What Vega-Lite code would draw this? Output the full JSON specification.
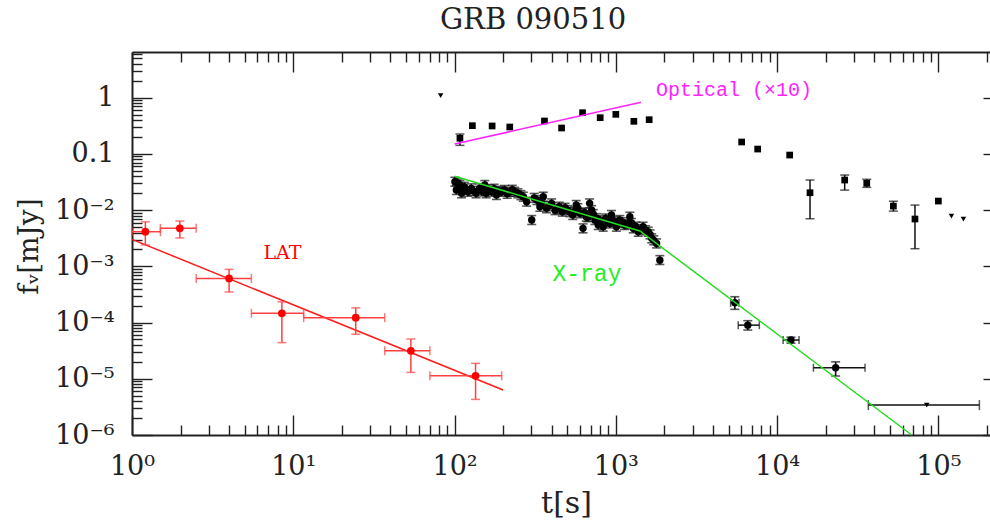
{
  "$schema": "https://vega.github.io/schema/vega-lite/v6.json",
  "autosize": {"type": "none"},
  "padding": {"left": 132, "top": 52, "right": 0, "bottom": 87},
  "width": 858,
  "height": 383,
  "background": "white",
  "config": {"view": {"stroke": null}, "font": "DejaVu Serif", "axis": {"grid": false, "tickColor": "#222", "tickWidth": 1.4, "domainColor": "#222", "domainWidth": 2, "labelOverlap": false, "labelFlush": false, "labelBound": false}},
  "title": {"text": "GRB 090510", "font": "DejaVu Serif", "fontSize": 29, "fontWeight": "normal", "color": "#222", "frame": "group", "anchor": "middle", "dx": -28, "baseline": "alphabetic", "offset": -7},
  "datasets": {
    "lat": [
      {"t": 1.21, "f": 0.00413, "tlo": 1.0, "thi": 1.5, "flo": 0.0024, "fhi": 0.0062},
      {"t": 1.98, "f": 0.00474, "tlo": 1.5, "thi": 2.5, "flo": 0.0032, "fhi": 0.0064},
      {"t": 4.0, "f": 0.00061, "tlo": 2.5, "thi": 5.5, "flo": 0.00035, "fhi": 0.000885},
      {"t": 8.5, "f": 0.000146, "tlo": 5.5, "thi": 11.6, "flo": 0.000044, "fhi": 0.000234},
      {"t": 24.4, "f": 0.000122, "tlo": 11.6, "thi": 36.9, "flo": 0.000062, "fhi": 0.000183},
      {"t": 53.6, "f": 0.0000315, "tlo": 36.9, "thi": 70.3, "flo": 0.000013, "fhi": 0.000051},
      {"t": 135, "f": 0.0000113, "tlo": 70.3, "thi": 196, "flo": 0.0000043, "fhi": 0.0000188}
    ],
    "latfit": [{"t": 1, "f": 0.00302}, {"t": 200, "f": 0.0000063}],
    "optfit": [{"t": 100, "f": 0.15}, {"t": 1432, "f": 0.828}],
    "xfit": [{"t": 100, "f": 0.0401}, {"t": 1410, "f": 0.00425}, {"t": 68400, "f": 0.000001}],
    "xray": [
      {"t": 100.5, "f": 0.032, "flo": 0.0267, "fhi": 0.0384},
      {"t": 102.6, "f": 0.0228, "flo": 0.019, "fhi": 0.0274},
      {"t": 105, "f": 0.03, "flo": 0.025, "fhi": 0.036},
      {"t": 108, "f": 0.028, "flo": 0.0233, "fhi": 0.0336},
      {"t": 110.5, "f": 0.0199, "flo": 0.0166, "fhi": 0.0239},
      {"t": 112, "f": 0.0235, "flo": 0.0196, "fhi": 0.0282},
      {"t": 115, "f": 0.026, "flo": 0.0217, "fhi": 0.0312},
      {"t": 121, "f": 0.0212, "flo": 0.0177, "fhi": 0.0254},
      {"t": 127, "f": 0.0244, "flo": 0.0203, "fhi": 0.0293},
      {"t": 131, "f": 0.022, "flo": 0.0183, "fhi": 0.0264},
      {"t": 136, "f": 0.0199, "flo": 0.0166, "fhi": 0.0239},
      {"t": 143, "f": 0.0244, "flo": 0.0203, "fhi": 0.0293},
      {"t": 148, "f": 0.0215, "flo": 0.0179, "fhi": 0.0258},
      {"t": 154, "f": 0.028, "flo": 0.0233, "fhi": 0.0336},
      {"t": 157, "f": 0.0199, "flo": 0.0166, "fhi": 0.0239},
      {"t": 163, "f": 0.0235, "flo": 0.0196, "fhi": 0.0282},
      {"t": 170, "f": 0.0212, "flo": 0.0177, "fhi": 0.0254},
      {"t": 176, "f": 0.024, "flo": 0.02, "fhi": 0.0288},
      {"t": 182, "f": 0.0186, "flo": 0.0155, "fhi": 0.0223},
      {"t": 188, "f": 0.022, "flo": 0.0183, "fhi": 0.0264},
      {"t": 195, "f": 0.0212, "flo": 0.0177, "fhi": 0.0254},
      {"t": 204, "f": 0.0228, "flo": 0.019, "fhi": 0.0274},
      {"t": 212, "f": 0.0195, "flo": 0.0163, "fhi": 0.0234},
      {"t": 220, "f": 0.0212, "flo": 0.0177, "fhi": 0.0254},
      {"t": 228, "f": 0.023, "flo": 0.0192, "fhi": 0.0276},
      {"t": 236, "f": 0.0212, "flo": 0.0177, "fhi": 0.0254},
      {"t": 247, "f": 0.0199, "flo": 0.0166, "fhi": 0.0239},
      {"t": 258, "f": 0.0185, "flo": 0.0154, "fhi": 0.0222},
      {"t": 267, "f": 0.0173, "flo": 0.0144, "fhi": 0.0208},
      {"t": 280, "f": 0.0141, "flo": 0.0118, "fhi": 0.0169},
      {"t": 301, "f": 0.00667, "flo": 0.00556, "fhi": 0.008},
      {"t": 312, "f": 0.0165, "flo": 0.0138, "fhi": 0.0198},
      {"t": 324, "f": 0.0151, "flo": 0.0126, "fhi": 0.0181},
      {"t": 338, "f": 0.0115, "flo": 0.00958, "fhi": 0.0138},
      {"t": 346, "f": 0.0135, "flo": 0.0113, "fhi": 0.0162},
      {"t": 355, "f": 0.0173, "flo": 0.0144, "fhi": 0.0208},
      {"t": 372, "f": 0.0108, "flo": 0.009, "fhi": 0.013},
      {"t": 385, "f": 0.0118, "flo": 0.00983, "fhi": 0.0142},
      {"t": 400, "f": 0.0132, "flo": 0.011, "fhi": 0.0158},
      {"t": 420, "f": 0.01, "flo": 0.00833, "fhi": 0.012},
      {"t": 432, "f": 0.0105, "flo": 0.00875, "fhi": 0.0126},
      {"t": 446, "f": 0.0115, "flo": 0.00958, "fhi": 0.0138},
      {"t": 466, "f": 0.0094, "flo": 0.00783, "fhi": 0.0113},
      {"t": 485, "f": 0.011, "flo": 0.00917, "fhi": 0.0132},
      {"t": 502, "f": 0.01, "flo": 0.00833, "fhi": 0.012},
      {"t": 520, "f": 0.0092, "flo": 0.00767, "fhi": 0.011},
      {"t": 541, "f": 0.0082, "flo": 0.00683, "fhi": 0.00984},
      {"t": 555, "f": 0.0095, "flo": 0.00792, "fhi": 0.0114},
      {"t": 568, "f": 0.0123, "flo": 0.0103, "fhi": 0.0148},
      {"t": 582, "f": 0.0108, "flo": 0.009, "fhi": 0.013},
      {"t": 600, "f": 0.0088, "flo": 0.00733, "fhi": 0.0106},
      {"t": 626, "f": 0.00474, "flo": 0.00395, "fhi": 0.00569},
      {"t": 640, "f": 0.0091, "flo": 0.00758, "fhi": 0.0109},
      {"t": 656, "f": 0.00764, "flo": 0.00637, "fhi": 0.00917},
      {"t": 672, "f": 0.0075, "flo": 0.00625, "fhi": 0.009},
      {"t": 688, "f": 0.0132, "flo": 0.011, "fhi": 0.0158},
      {"t": 708, "f": 0.01, "flo": 0.00833, "fhi": 0.012},
      {"t": 725, "f": 0.0085, "flo": 0.00708, "fhi": 0.0102},
      {"t": 742, "f": 0.00667, "flo": 0.00556, "fhi": 0.008},
      {"t": 760, "f": 0.0072, "flo": 0.006, "fhi": 0.00864},
      {"t": 778, "f": 0.00543, "flo": 0.00453, "fhi": 0.00652},
      {"t": 800, "f": 0.0066, "flo": 0.0055, "fhi": 0.00792},
      {"t": 835, "f": 0.00507, "flo": 0.00423, "fhi": 0.00608},
      {"t": 865, "f": 0.0071, "flo": 0.00592, "fhi": 0.00852},
      {"t": 896, "f": 0.00622, "flo": 0.00518, "fhi": 0.00746},
      {"t": 920, "f": 0.0058, "flo": 0.00483, "fhi": 0.00696},
      {"t": 940, "f": 0.0082, "flo": 0.00683, "fhi": 0.00984},
      {"t": 975, "f": 0.0064, "flo": 0.00533, "fhi": 0.00768},
      {"t": 1008, "f": 0.00507, "flo": 0.00423, "fhi": 0.00608},
      {"t": 1035, "f": 0.0059, "flo": 0.00492, "fhi": 0.00708},
      {"t": 1058, "f": 0.00667, "flo": 0.00556, "fhi": 0.008},
      {"t": 1100, "f": 0.0061, "flo": 0.00508, "fhi": 0.00732},
      {"t": 1134, "f": 0.00543, "flo": 0.00453, "fhi": 0.00652},
      {"t": 1180, "f": 0.0056, "flo": 0.00467, "fhi": 0.00672},
      {"t": 1222, "f": 0.00764, "flo": 0.00637, "fhi": 0.00917},
      {"t": 1250, "f": 0.0059, "flo": 0.00492, "fhi": 0.00708},
      {"t": 1283, "f": 0.00474, "flo": 0.00395, "fhi": 0.00569},
      {"t": 1330, "f": 0.0051, "flo": 0.00425, "fhi": 0.00612},
      {"t": 1377, "f": 0.00413, "flo": 0.00344, "fhi": 0.00496},
      {"t": 1430, "f": 0.0046, "flo": 0.00383, "fhi": 0.00552},
      {"t": 1476, "f": 0.00507, "flo": 0.00423, "fhi": 0.00608},
      {"t": 1530, "f": 0.0044, "flo": 0.00367, "fhi": 0.00528},
      {"t": 1588, "f": 0.00413, "flo": 0.00344, "fhi": 0.00496},
      {"t": 1630, "f": 0.0037, "flo": 0.00308, "fhi": 0.00444},
      {"t": 1670, "f": 0.00315, "flo": 0.00263, "fhi": 0.00378},
      {"t": 1720, "f": 0.0029, "flo": 0.00242, "fhi": 0.00348},
      {"t": 1790, "f": 0.00256, "flo": 0.00213, "fhi": 0.00307},
      {"t": 1875, "f": 0.00129, "flo": 0.00108, "fhi": 0.00155},
      {"t": 5470, "f": 0.000225, "flo": 0.000172, "fhi": 0.000288, "tlo": 5150, "thi": 5800},
      {"t": 6580, "f": 0.00009, "flo": 0.0000736, "fhi": 0.000108, "tlo": 5740, "thi": 7760},
      {"t": 12190, "f": 0.0000489, "flo": 0.000043, "fhi": 0.000055, "tlo": 10900, "thi": 13680},
      {"t": 23070, "f": 0.0000157, "flo": 0.0000112, "fhi": 0.00002, "tlo": 16800, "thi": 35100}
    ],
    "ul": [
      {"t": 82, "f": 1.09},
      {"t": 120500, "f": 0.00785},
      {"t": 143000, "f": 0.00695},
      {"t": 84700, "f": 0.0000034, "tlo": 36800, "thi": 179600}
    ],
    "opt": [
      {"t": 108, "f": 0.19, "flo": 0.142, "fhi": 0.226},
      {"t": 129, "f": 0.318},
      {"t": 171, "f": 0.314},
      {"t": 220, "f": 0.301},
      {"t": 361, "f": 0.385},
      {"t": 461, "f": 0.289},
      {"t": 622, "f": 0.541},
      {"t": 800, "f": 0.441},
      {"t": 1000, "f": 0.506},
      {"t": 1294, "f": 0.38},
      {"t": 1610, "f": 0.406},
      {"t": 6030, "f": 0.163},
      {"t": 7580, "f": 0.122},
      {"t": 11970, "f": 0.0955},
      {"t": 16000, "f": 0.0204, "flo": 0.00703, "fhi": 0.0343},
      {"t": 26250, "f": 0.0343, "flo": 0.0227, "fhi": 0.0421},
      {"t": 35970, "f": 0.03, "flo": 0.0254, "fhi": 0.0353},
      {"t": 52600, "f": 0.0118, "flo": 0.0096, "fhi": 0.0144},
      {"t": 71600, "f": 0.00695, "flo": 0.00206, "fhi": 0.0123},
      {"t": 100000, "f": 0.0145}
    ]
  },
  "encoding": {
    "x": {"field": "t", "type": "quantitative", "scale": {"type": "log", "domain": [1, 209000], "nice": false}, "axis": null},
    "y": {"field": "f", "type": "quantitative", "scale": {"type": "log", "domain": [0.000001, 6.5], "nice": false}, "axis": null}
  },
  "resolve": {"axis": {"x": "independent", "y": "independent"}},
  "layer": [
    {
      "data": {"name": "latfit"},
      "mark": {"type": "line", "color": "#ff1a1a", "strokeWidth": 1.5},
      "encoding": {
        "x": {"field": "t", "type": "quantitative", "scale": {"type": "log", "domain": [1, 209000], "nice": false},
          "axis": {"orient": "bottom", "values": [1, 10, 100, 1000, 10000, 100000],
            "domain": true, "ticks": true, "tickSize": -20,
            "labelExpr": "'10' + ['⁰','¹','²','³','⁴','⁵'][round(log(datum.value)/LN10)]",
            "labelFont": "DejaVu Serif", "labelFontSize": 27, "labelColor": "#222", "labelPadding": 38,
            "title": "t[s]", "titleFont": "DejaVu Serif", "titleFontSize": 30, "titleFontWeight": "normal", "titleColor": "#222", "titleX": 434, "titleY": 68, "titleBaseline": "middle", "titleAlign": "center"}},
        "y": {"field": "f", "type": "quantitative", "scale": {"type": "log", "domain": [0.000001, 6.5], "nice": false},
          "axis": {"orient": "left", "values": [0.000001, 0.00001, 0.0001, 0.001, 0.01, 0.1, 1],
            "domain": true, "ticks": true, "tickSize": -20,
            "labelExpr": "['1','0.1','10⁻²','10⁻³','10⁻⁴','10⁻⁵','10⁻⁶'][-round(log(datum.value)/LN10)]",
            "labelFont": "DejaVu Serif", "labelFontSize": 27, "labelColor": "#222", "labelPadding": 38,
            "title": "fᵥ[mJy]", "titleFont": "DejaVu Serif", "titleFontSize": 28, "titleFontWeight": "normal", "titleColor": "#222", "titleX": -103, "titleY": 194, "titleBaseline": "middle", "titleAlign": "center", "titleAngle": -90}}
      }
    },
    {
      "data": {"name": "lat"},
      "mark": {"type": "errorbar", "ticks": true, "size": 9, "thickness": 1.5, "color": "#ff4040"},
      "encoding": {
        "y": {"field": "flo", "type": "quantitative", "scale": {"type": "log", "domain": [0.000001, 6.5], "nice": false}, "axis": null},
        "y2": {"field": "fhi"}
      }
    },
    {
      "data": {"name": "lat"},
      "mark": {"type": "errorbar", "ticks": true, "size": 9, "thickness": 1.5, "color": "#ff4040"},
      "encoding": {
        "x": {"field": "tlo", "type": "quantitative", "scale": {"type": "log", "domain": [1, 209000], "nice": false}, "axis": null},
        "x2": {"field": "thi"}
      }
    },
    {
      "data": {"name": "lat"},
      "mark": {"type": "point", "shape": "circle", "filled": true, "size": 60, "color": "#ff0000", "opacity": 1},
      "encoding": {
        "x": {"field": "t", "type": "quantitative", "scale": {"type": "log", "domain": [1, 209000], "nice": false},
          "axis": {"orient": "top", "values": [2,3,4,5,6,7,8,9,20,30,40,50,60,70,80,90,200,300,400,500,600,700,800,900,2000,3000,4000,5000,6000,7000,8000,9000,20000,30000,40000,50000,60000,70000,80000,90000,200000],
            "domain": false, "ticks": true, "tickSize": -10, "labels": false, "title": null}},
        "y": {"field": "f", "type": "quantitative", "scale": {"type": "log", "domain": [0.000001, 6.5], "nice": false},
          "axis": {"orient": "right", "offset": 13, "values": [0.000002,0.000003,0.000004,0.000005,0.000006,0.000007,0.000008,0.000009,0.00002,0.00003,0.00004,0.00005,0.00006,0.00007,0.00008,0.00009,0.0002,0.0003,0.0004,0.0005,0.0006,0.0007,0.0008,0.0009,0.002,0.003,0.004,0.005,0.006,0.007,0.008,0.009,0.02,0.03,0.04,0.05,0.06,0.07,0.08,0.09,0.2,0.3,0.4,0.5,0.6,0.7,0.8,0.9,2,3,4,5,6],
            "domain": false, "ticks": true, "tickSize": -10, "labels": false, "title": null}}
      }
    },
    {
      "data": {"name": "xray"},
      "mark": {"type": "errorbar", "ticks": true, "size": 9, "thickness": 1.6, "color": "#111"},
      "encoding": {
        "y": {"field": "flo", "type": "quantitative", "scale": {"type": "log", "domain": [0.000001, 6.5], "nice": false}, "axis": null},
        "y2": {"field": "fhi"}
      }
    },
    {
      "data": {"name": "xray"},
      "transform": [{"filter": "isValid(datum.tlo)"}],
      "mark": {"type": "errorbar", "ticks": true, "size": 8, "thickness": 1.5, "color": "#111"},
      "encoding": {
        "x": {"field": "tlo", "type": "quantitative", "scale": {"type": "log", "domain": [1, 209000], "nice": false}, "axis": null},
        "x2": {"field": "thi"}
      }
    },
    {
      "data": {"name": "xray"},
      "mark": {"type": "point", "shape": "circle", "filled": true, "size": 55, "color": "#000", "opacity": 1}
    },
    {
      "data": {"name": "ul"},
      "transform": [{"filter": "isValid(datum.tlo)"}],
      "mark": {"type": "errorbar", "ticks": true, "size": 10, "thickness": 1.5, "color": "#111"},
      "encoding": {
        "x": {"field": "tlo", "type": "quantitative", "scale": {"type": "log", "domain": [1, 209000], "nice": false}, "axis": null},
        "x2": {"field": "thi"}
      }
    },
    {
      "data": {"name": "ul"},
      "mark": {"type": "point", "shape": "triangle-down", "filled": true, "size": 30, "color": "#000", "opacity": 1}
    },
    {
      "data": {"name": "opt"},
      "transform": [{"filter": "isValid(datum.flo)"}],
      "mark": {"type": "errorbar", "ticks": true, "size": 9, "thickness": 1.5, "color": "#111"},
      "encoding": {
        "y": {"field": "flo", "type": "quantitative", "scale": {"type": "log", "domain": [0.000001, 6.5], "nice": false}, "axis": null},
        "y2": {"field": "fhi"}
      }
    },
    {
      "data": {"name": "opt"},
      "mark": {"type": "point", "shape": "square", "filled": true, "size": 45, "color": "#000", "opacity": 1}
    },
    {
      "data": {"name": "optfit"},
      "mark": {"type": "line", "color": "#ff22ff", "strokeWidth": 1.5},
      "encoding": {
        "x": {"field": "t", "type": "quantitative", "scale": {"type": "log", "domain": [1, 209000], "nice": false},
          "axis": {"orient": "top", "values": [1, 10, 100, 1000, 10000, 100000],
            "domain": true, "ticks": true, "tickSize": -20, "labels": false, "title": null}},
        "y": {"field": "f", "type": "quantitative", "scale": {"type": "log", "domain": [0.000001, 6.5], "nice": false},
          "axis": {"orient": "right", "offset": 13, "values": [0.000001, 0.00001, 0.0001, 0.001, 0.01, 0.1, 1],
            "domain": true, "ticks": true, "tickSize": -20, "labels": false, "title": null}}
      }
    },
    {
      "data": {"name": "xfit"},
      "mark": {"type": "line", "color": "#22dd22", "strokeWidth": 1.5},
      "encoding": {
        "x": {"field": "t", "type": "quantitative", "scale": {"type": "log", "domain": [1, 209000], "nice": false},
          "axis": {"orient": "bottom", "values": [2,3,4,5,6,7,8,9,20,30,40,50,60,70,80,90,200,300,400,500,600,700,800,900,2000,3000,4000,5000,6000,7000,8000,9000,20000,30000,40000,50000,60000,70000,80000,90000,200000],
            "domain": false, "ticks": true, "tickSize": -10, "labels": false, "title": null}},
        "y": {"field": "f", "type": "quantitative", "scale": {"type": "log", "domain": [0.000001, 6.5], "nice": false},
          "axis": {"orient": "left", "values": [0.000002,0.000003,0.000004,0.000005,0.000006,0.000007,0.000008,0.000009,0.00002,0.00003,0.00004,0.00005,0.00006,0.00007,0.00008,0.00009,0.0002,0.0003,0.0004,0.0005,0.0006,0.0007,0.0008,0.0009,0.002,0.003,0.004,0.005,0.006,0.007,0.008,0.009,0.02,0.03,0.04,0.05,0.06,0.07,0.08,0.09,0.2,0.3,0.4,0.5,0.6,0.7,0.8,0.9,2,3,4,5,6],
            "domain": false, "ticks": true, "tickSize": -10, "labels": false, "title": null}}
      }
    },
    {
      "data": {"values": [{"t": 8.57, "f": 0.00175, "label": "LAT"}]},
      "mark": {"type": "text", "font": "DejaVu Serif", "fontSize": 19, "color": "#ff0000", "align": "center", "baseline": "middle"},
      "encoding": {"text": {"field": "label"}}
    },
    {
      "data": {"values": [{"t": 662, "f": 0.000726, "label": "X-ray"}]},
      "mark": {"type": "text", "font": "Liberation Mono", "fontSize": 23, "color": "#22ee22", "align": "center", "baseline": "middle"},
      "encoding": {"text": {"field": "label"}}
    },
    {
      "data": {"values": [{"t": 1774, "f": 1.37, "label": "Optical (×10)"}]},
      "mark": {"type": "text", "font": "Liberation Mono", "fontSize": 20, "color": "#ff22ff", "align": "left", "baseline": "middle"},
      "encoding": {"text": {"field": "label"}}
    }
  ]
}
